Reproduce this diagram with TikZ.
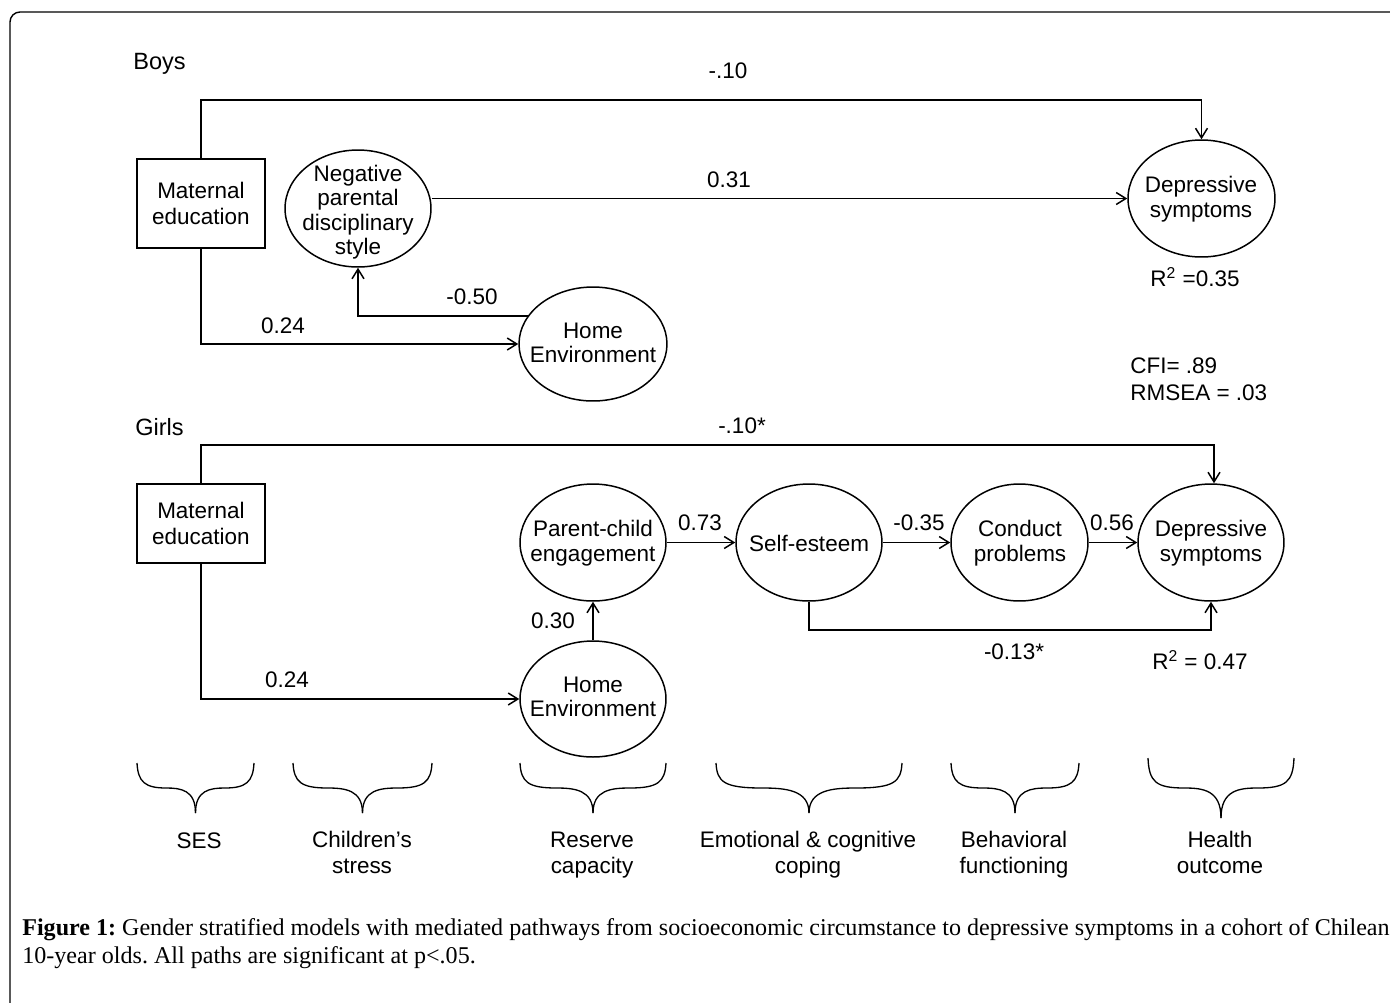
\documentclass[tikz,border=0pt]{standalone}
\usepackage{fontspec}
\setmainfont{Liberation Sans}
\newfontfamily\capfont{Liberation Serif}
\usetikzlibrary{shapes.geometric,arrows.meta}
\tikzset{
  ell/.style={draw, ellipse, inner sep=0pt, line width=0.85pt},
  boxn/.style={draw, rectangle, inner sep=0pt, line width=0.85pt, align=center},
  txt/.style={align=center, inner sep=0pt},
  lbl/.style={inner sep=0pt},
  ln/.style={line width=0.85pt},
  arr/.style={line width=0.85pt, -{Straight Barb[length=5.5pt,width=6.8pt]}},
  bracestyle/.style={line width=0.75pt},
  catlbl/.style={align=center, inner sep=0pt, font=\fontsize{12.8}{14.7}\selectfont},
}
\newcommand\curlyb[4]{%
  \pgfmathsetmacro\bxc{(#1+#2)/2}%
  \pgfmathsetmacro\bym{(#3+#4)/2}%
  \pgfmathsetmacro\bq{(#2-#1)/4}%
  \draw[bracestyle] (#1,#3) .. controls (#1+1,\bym-6) and (#1+8,\bym) .. (#1+\bq,\bym)
     .. controls (\bxc-\bq*0.5,\bym) and (\bxc,\bym+2) .. (\bxc,#4);
  \draw[bracestyle] (#2,#3) .. controls (#2-1,\bym-6) and (#2-8,\bym) .. (#2-\bq,\bym)
     .. controls (\bxc+\bq*0.5,\bym) and (\bxc,\bym+2) .. (\bxc,#4);
}
\begin{document}
\frenchspacing
\begin{tikzpicture}[x=0.02cm,y=-0.02cm,
  font=\fontsize{12.8}{13.9}\selectfont]
\useasboundingbox (0,0) rectangle (1390,1002);
% frame
\draw[line width=0.8pt, rounded corners=0.2cm] (10,1010) -- (10,12) -- (1400,12);

% ---------------- Boys ----------------
\node[lbl, anchor=west, font=\fontsize{13.4}{15}\selectfont] (boys) at (133,64) {Boys};
\node[boxn, minimum width=2.56cm, minimum height=1.78cm,
      font=\fontsize{12.8}{15.3}\selectfont] (bme) at (201,203.5) {Maternal\\education};
\node[ell, minimum width=2.92cm, minimum height=2.34cm] (neg) at (358,208.5) {};
\node[txt] (negt) at (358,212) {Negative\\parental\\disciplinary\\style};
\node[ell, minimum width=2.94cm, minimum height=2.34cm] (bdep) at (1201.5,198.5) {};
\node[txt] (bdept) at (1201,199) {Depressive\\symptoms};
\node[ell, minimum width=2.96cm, minimum height=2.28cm] (bhome) at (593,344) {};
\node[txt] (bhomet) at (593,343) {Home\\Environment};

\coordinate (btop) at (201,100);
\draw[arr] (bme.north) -- (btop) -| (bdep.north);
\draw[arr] (neg.east |- bdep.west) -- (bdep.west);
\draw[arr] (bme.south) |- (bhome.west);
\draw[arr] (bhome.157) -| (neg.south);

\node[lbl] (l1) at (728,71) {-.10};
\node[lbl] (l2) at (729,180) {0.31};
\node[lbl] (l3) at (283,326) {0.24};
\node[lbl] (l4) at (472,297) {-0.50};
\node[lbl] (r1) at (1195,277) {R\textsuperscript{2} =0.35};
\node[lbl, anchor=west] (cfi) at (1130,366) {CFI= .89};
\node[lbl, anchor=west] (rmsea) at (1130,393) {RMSEA = .03};

% ---------------- Girls ----------------
\node[lbl, anchor=west, font=\fontsize{13.4}{15}\selectfont] (girls) at (135,427) {Girls};
\node[boxn, minimum width=2.56cm, minimum height=1.58cm,
      font=\fontsize{12.8}{15.3}\selectfont] (gme) at (201,523.5) {Maternal\\education};
\node[ell, minimum width=2.92cm, minimum height=2.34cm] (pc) at (593,542.5) {};
\node[txt] (pct) at (593,543) {Parent-child\\engagement};
\node[ell, minimum width=2.92cm, minimum height=2.34cm] (se) at (809,542.5) {};
\node[txt] (set) at (809,543) {Self-esteem};
\node[ell, minimum width=2.74cm, minimum height=2.34cm] (cp) at (1019.5,542.5) {};
\node[txt] (cpt) at (1020,543) {Conduct\\problems};
\node[ell, minimum width=2.92cm, minimum height=2.34cm] (gdep) at (1211,542.5) {};
\node[txt] (gdept) at (1211,543) {Depressive\\symptoms};
\node[ell, minimum width=2.92cm, minimum height=2.32cm] (ghome) at (593,699) {};
\node[txt] (ghomet) at (593,697) {Home\\Environment};

\coordinate (gtop) at (201,445);
\coordinate (gbot) at (809,630);
\draw[arr] (gme.north) -- (gtop) -| ([xshift=0.06cm]gdep.north);
\draw[arr] (gme.south) |- (ghome.west);
\draw[arr] (ghome.north) -- (pc.south);
\draw[arr] (pc.east) -- (se.west);
\draw[arr] (se.east) -- (cp.west);
\draw[arr] (cp.east) -- (gdep.west);
\draw[arr] (se.south) -- (gbot) -| (gdep.south);

\node[lbl] (m1) at (742,426) {-.10*};
\node[lbl] (m2) at (700,523) {0.73};
\node[lbl] (m3) at (919,523) {-0.35};
\node[lbl] (m4) at (1112,523) {0.56};
\node[lbl] (m5) at (553,621) {0.30};
\node[lbl] (m6) at (287,680) {0.24};
\node[lbl] (m7) at (1014,652) {-0.13*};
\node[lbl] (r2) at (1200,660) {R\textsuperscript{2} = 0.47};

% ---------------- braces ----------------
\curlyb{137}{254}{763}{813}
\curlyb{293}{432}{763}{813}
\curlyb{520}{666}{763}{813}
\curlyb{716}{902}{763}{813}
\curlyb{951}{1079}{763}{813}
\curlyb{1148}{1294}{758}{818}

\node[lbl] (c1) at (199,841) {SES};
\node[catlbl] (c2) at (362,855) {\strut Children’s\\\strut stress};
\node[catlbl] (c3) at (592,855) {\strut Reserve\\\strut capacity};
\node[catlbl] (c4) at (808,855) {\strut Emotional \& cognitive\\\strut coping};
\node[catlbl] (c5) at (1014,855) {\strut Behavioral\\\strut functioning};
\node[catlbl] (c6) at (1220,855) {\strut Health\\\strut outcome};

% ---------------- caption ----------------
\node[lbl, anchor=base west, font=\capfont\fontsize{13.7}{16}\selectfont] (cap1) at (22,935)
  {\textbf{Figure 1:} Gender stratified models with mediated pathways from socioeconomic circumstance to depressive symptoms in a cohort of Chilean};
\node[lbl, anchor=base west, font=\capfont\fontsize{13.7}{16}\selectfont] (cap2) at (22,963)
  {10-year olds. All paths are significant at p<.05.};
\end{tikzpicture}
\end{document}
